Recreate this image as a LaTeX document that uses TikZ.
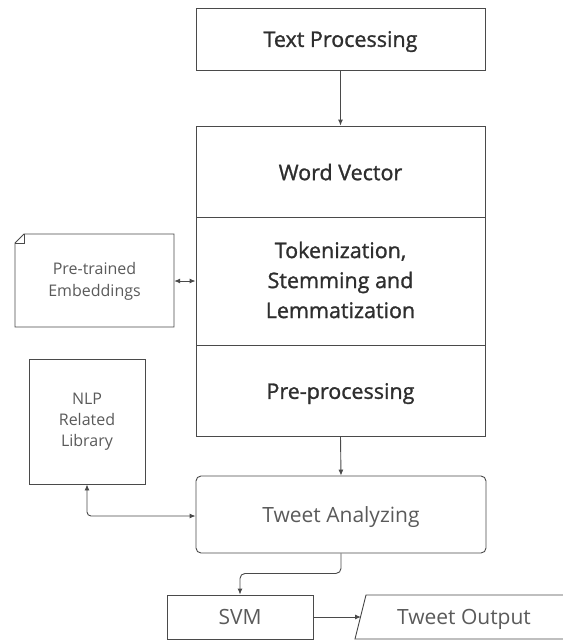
\documentclass[tikz,border=0pt]{standalone}
\usepackage{fontspec}
\setmainfont{Open Sans}
\usetikzlibrary{arrows.meta,calc}
\definecolor{linec}{HTML}{4A4A4A}
\definecolor{headc}{HTML}{2E2E2E}
\definecolor{bodyc}{HTML}{5A5A5A}
\tikzset{
  box/.style={draw=linec, line width=0.9pt, inner sep=0pt},
  head/.style={font=\fontsize{21.5}{30}\selectfont\addfontfeatures{FakeBold=1.2}, text=headc, align=center},
  body/.style={font=\fontsize{21}{30}\selectfont, text=bodyc, align=center},
  small/.style={font=\fontsize{16}{22}\selectfont, text=bodyc, align=center},
  oneline/.style={text depth=0pt},
  conn/.style={draw=linec, line width=0.9pt, -{Latex[length=6pt,width=5pt]}},
  both/.style={draw=linec, line width=0.9pt, {Latex[length=6pt,width=5pt]}-{Latex[length=6pt,width=5pt]}},
}
\begin{document}
\begin{tikzpicture}[x=1pt,y=-1pt]
\useasboundingbox (0,0) rectangle (563,641);
\clip (0,0) rectangle (563,641);

% top stage
\node[box, minimum width=289pt, minimum height=62pt, head, oneline] (tp) at (340.5,39) {Text Processing};

% stacked processing block
\node[box, minimum width=289pt, minimum height=310pt] (blk) at (340.5,281) {};
\draw[linec, line width=0.9pt] (196,217) coordinate (d1a) -- (485,217);
\draw[linec, line width=0.9pt] (196,345) coordinate (d2a) -- (485,345);
\node[head, oneline] (wv) at (340.5,172) {Word Vector};
\node[head] (tok) at (340.5,280) {Tokenization,\\Stemming and\\Lemmatization};
\node[head, oneline] (pp) at (340.5,391) {Pre-processing};

% pre-trained embeddings (folded corner)
\coordinate (pe-c) at (94.5,281);
\draw[linec, line width=0.9pt] (24,234) -- (174,234) -- (174,327) -- (15,327) -- (15,243) -- cycle;
\draw[linec, line width=0.7pt] (24,234) -- (24,243) -- (15,243);
\node[small, minimum width=159pt, minimum height=93pt] (pe) at (pe-c) {Pre-trained\\Embeddings};

% NLP library
\node[box, minimum width=116pt, minimum height=125pt, small, font=\fontsize{16}{21}\selectfont] (nlp) at (87,421.5) {NLP\\Related\\Library};

% analysis
\node[box, rounded corners=5pt, minimum width=290pt, minimum height=77pt, body, oneline] (ta) at (341,514.5) {Tweet Analyzing};

% classifier and output
\node[box, minimum width=146pt, minimum height=44pt, body, oneline] (svm) at (240,617) {SVM};
\draw[linec, line width=0.9pt] (366,595) -- (600,595) -- (600,639) -- (355,639) -- cycle;
\node[body, oneline, minimum width=100pt, minimum height=44pt] (out) at (464,617) {Tweet Output};
\coordinate (outl) at (361,617);

% connectors
\draw[conn] (tp.south) -- (blk.north);
\draw[conn] (blk.south) -- (ta.north);
\draw[both] (pe.east) -- (blk.west |- pe.east);
\draw[both, rounded corners=4pt] (nlp.south) |- (ta.west |- 0,516);
\draw[conn, rounded corners=5pt] (ta.south) -- ++(0,20) -| (svm.north);
\draw[conn] (svm.east) -- (outl);
\end{tikzpicture}
\end{document}
